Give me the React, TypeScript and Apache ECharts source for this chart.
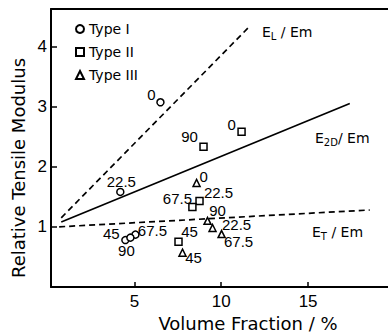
import React, { useEffect, useRef } from "react";
import * as echarts from "echarts";

// Fibre orientation angles (point labels), same order for every type
const angles = ["0", "22.5", "45", "67.5", "90"];

// Type I (circles)
const type1X = [6.5, 4.19, 4.48, 5.06, 4.77];
const type1Y = [3.07, 1.58, 0.78, 0.87, 0.82];
// Type II (squares)
const type2X = [11.17, 8.75, 7.54, 8.34, 8.98];
const type2Y = [2.58, 1.43, 0.75, 1.33, 2.33];
// Type III (triangles)
const type3X = [8.58, 9.5, 7.77, 10.02, 9.21];
const type3Y = [1.73, 0.98, 0.57, 0.88, 1.1];

// Theoretical lines (two end points each)
const eLX = [0.79, 11.63];
const eLY = [1.15, 4.33];
const e2DX = [0.79, 17.4];
const e2DY = [1.08, 3.05];
const eTX = [0.67, 18.55];
const eTY = [1.0, 1.28];

// Axis ticks
const xTicks = [5, 10, 15];
const yTicks = [1, 2, 3, 4];

// label placement (styling only)
const off1 = [[-9, -8], [1, -10], [-14, -7], [17, -4], [-4, 13]];
const off2 = [[-10, -7], [19, -8], [11, -10], [-15, -8], [-14, -10]];
const off3 = [[7, -6], [24, -4], [11, 5], [17, 7], [10, -10]];

const INK = "#000";
const NUM_FONT = "Liberation Sans";
const TXT_FONT = "DejaVu Sans";

function pts(xs: number[], ys: number[]) {
  return xs.map((x, i) => [x, ys[i]]);
}

function scatterData(xs: number[], ys: number[], offs: number[][]) {
  return xs.map((x, i) => ({
    value: [x, ys[i]],
    name: angles[i],
    label: { offset: offs[i] },
  }));
}

function scatter(name: string, symbol: string, size: number, xs: number[], ys: number[], offs: number[][]) {
  return {
    type: "scatter",
    name,
    symbol,
    symbolSize: size,
    itemStyle: { color: "#fff", borderColor: INK, borderWidth: 1.5, opacity: 1 },
    label: {
      show: true,
      position: "inside",
      formatter: (p: any) => p.name,
      color: INK,
      fontFamily: NUM_FONT,
      fontSize: 15,
    },
    data: scatterData(xs, ys, offs),
    z: 3,
  };
}

function lineSeries(name: string, xs: number[], ys: number[], dashed: boolean) {
  return {
    type: "line",
    name,
    data: pts(xs, ys),
    showSymbol: false,
    symbol: "none",
    lineStyle: {
      color: INK,
      width: 1.7,
      type: dashed ? [6, 4] : "solid",
    },
    silent: true,
    z: 2,
  };
}

export default function App() {
  const ref = useRef<HTMLDivElement>(null);
  useEffect(() => {
    if (!ref.current) return;
    const chart = echarts.init(ref.current, undefined, { renderer: "svg" });
    const sub = { fontSize: 10, fontFamily: TXT_FONT, color: INK, padding: [8, 0, 0, 0] };
    const main = { fontSize: 14, fontFamily: TXT_FONT, color: INK };
    chart.setOption({
      animation: false,
      backgroundColor: "#fff",
      grid: { left: 51, right: 0, top: 9, bottom: 48 },
      legend: {
        orient: "vertical",
        left: 70,
        top: 17,
        itemWidth: 8,
        itemHeight: 8,
        itemGap: 9,
        data: ["Type I", "Type II", "Type III"],
        textStyle: { fontFamily: TXT_FONT, fontSize: 14, color: INK },
      },
      xAxis: [
        {
          type: "value",
          min: 0.2,
          max: 19.6,
          axisLine: { show: true, lineStyle: { color: INK, width: 2 } },
          axisTick: { show: true, inside: true, length: 5, customValues: xTicks, lineStyle: { color: INK, width: 1.5 } },
          axisLabel: { customValues: xTicks, color: INK, fontFamily: NUM_FONT, fontSize: 17, margin: 6 },
          splitLine: { show: false },
        },
        {
          type: "value",
          position: "top",
          min: 0.2,
          max: 19.6,
          axisLine: { show: true, lineStyle: { color: INK, width: 2 } },
          axisTick: { show: false },
          axisLabel: { show: false },
          splitLine: { show: false },
        },
      ],
      yAxis: {
        type: "value",
        min: 0,
        max: 4.62,
        axisLine: { show: true, lineStyle: { color: INK, width: 2 } },
        axisTick: { show: true, inside: true, length: 6, customValues: yTicks, lineStyle: { color: INK, width: 1.5 } },
        axisLabel: { customValues: yTicks, color: INK, fontFamily: NUM_FONT, fontSize: 17, margin: 4 },
        splitLine: { show: false },
      },
      graphic: [
        {
          type: "text",
          x: 18,
          y: 168,
          rotation: Math.PI / 2,
          style: {
            text: "Relative Tensile Modulus",
            fontFamily: TXT_FONT,
            fontSize: 18,
            fill: INK,
            textAlign: "center",
            textVerticalAlign: "middle",
          },
        },
        {
          type: "text",
          x: 248,
          y: 323,
          style: {
            text: "Volume Fraction / %",
            fontFamily: TXT_FONT,
            fontSize: 18,
            fill: INK,
            textAlign: "center",
            textVerticalAlign: "middle",
          },
        },
        {
          type: "text",
          x: 262,
          y: 23,
          style: { text: "{m|E}{s|L}{m| / Em}", rich: { m: main, s: sub }, fill: INK },
        },
        {
          type: "text",
          x: 315,
          y: 129,
          style: { text: "{m|E}{s|2D}{m|/ Em}", rich: { m: main, s: sub }, fill: INK },
        },
        {
          type: "text",
          x: 312,
          y: 223,
          style: { text: "{m|E}{s|T}{m| / Em}", rich: { m: main, s: sub }, fill: INK },
        },
      ],
      series: [
        lineSeries("EL", eLX, eLY, true),
        lineSeries("E2D", e2DX, e2DY, false),
        lineSeries("ET", eTX, eTY, true),
        scatter("Type I", "circle", 7, type1X, type1Y, off1),
        scatter("Type II", "rect", 7, type2X, type2Y, off2),
        scatter("Type III", "triangle", 7, type3X, type3Y, off3),
      ],
    });
    return () => chart.dispose();
  }, []);
  return <div ref={ref} style={{ width: 388, height: 335, position: "absolute", left: 0, top: 0 }} />;
}
